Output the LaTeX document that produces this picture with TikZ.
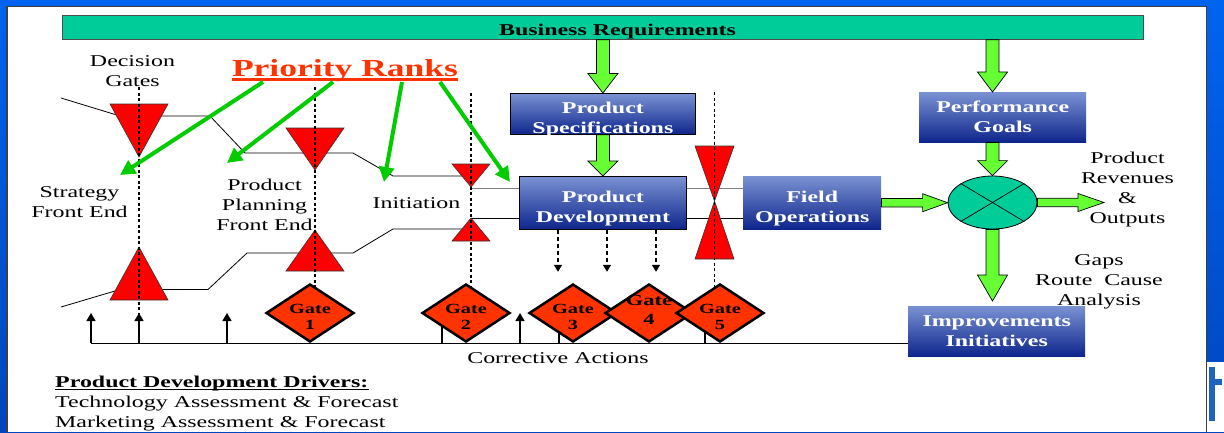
\documentclass[tikz,border=0pt]{standalone}
\usepackage{fontspec}
\setmainfont{Liberation Serif}[FakeStretch=1.45]
\usetikzlibrary{shapes.geometric,arrows.meta,calc}
\definecolor{framebluetop}{RGB}{0,100,240}
\definecolor{frameblue}{RGB}{0,70,190}
\definecolor{barteal}{RGB}{0,204,153}
\definecolor{gred}{RGB}{255,0,0}
\definecolor{gateor}{RGB}{255,51,0}
\definecolor{blockgreen}{RGB}{102,255,51}
\definecolor{linegreen}{RGB}{0,204,0}
\definecolor{boxtop}{RGB}{122,146,210}
\definecolor{boxbot}{RGB}{14,38,140}
\definecolor{prio}{RGB}{255,51,0}
\definecolor{logoblue}{RGB}{30,100,190}
\begin{document}
\begin{tikzpicture}[x=1pt,y=-1pt,
  txt/.style={font=\fontsize{16.5}{20}\selectfont, align=center, inner sep=0pt, anchor=base},
  bar/.style={anchor=north west, fill=barteal, draw=black!70, line width=0.8pt, minimum width=1081pt, minimum height=24pt, inner sep=0pt},
  bluebox/.style={anchor=north west, top color=boxtop, bottom color=boxbot, text=white,
    font=\bfseries\fontsize{16.5}{20}\selectfont, align=center, inner sep=0pt},
  tri/.style={fill=gred, draw=black!80, line width=0.6pt},
  pline/.style={black, line width=0.8pt},
  gatedash/.style={black, line width=1.1pt, dash pattern=on 3pt off 2.5pt},
  uparrow/.style={black, line width=1.4pt, -{Triangle[length=8pt,width=9pt]}},
  dasharrow/.style={black, line width=1.4pt, dash pattern=on 4pt off 3pt, -{Triangle[length=7pt,width=8pt]}},
  greenarrow/.style={linegreen, line width=4pt, -{Triangle[length=15pt,width=15pt]}},
  blockarrow/.style={fill=blockgreen, draw=black, line width=0.7pt},
  vblock/.style={blockarrow, to path={let \p1=(\tikztostart),\p2=(\tikztotarget) in
    (\x1-6.5pt,\y1) -- (\x1-6.5pt,\y2+#1) -- (\x1-15pt,\y2+#1) -- (\x1,\y2) -- (\x1+15pt,\y2+#1) -- (\x1+6.5pt,\y2+#1) -- (\x1+6.5pt,\y1) -- cycle}},
  hblock/.style={blockarrow, to path={let \p1=(\tikztostart),\p2=(\tikztotarget) in
    (\x1,\y1+4.2pt) -- (\x2-#1,\y1+4.2pt) -- (\x2-#1,\y1+9pt) -- (\x2,\y1) -- (\x2-#1,\y1-9pt) -- (\x2-#1,\y1-4.2pt) -- (\x1,\y1-4.2pt) -- cycle}},
  gate/.style={diamond, draw=black, line width=2.5pt, fill=gateor, aspect=1.5, inner sep=0pt,
    minimum width=88pt, minimum height=58pt},
  gatetext/.style={font=\bfseries\fontsize{14}{16.7}\selectfont, align=center, inner sep=0pt, yshift=-4pt},
  gatefour/.style={font=\bfseries\fontsize{15.5}{19}\selectfont, align=center, inner sep=0pt, yshift=2.8pt}
]
\useasboundingbox (0,0) rectangle (1224,432);
% frame
\fill[top color=framebluetop, bottom color=frameblue] (0,0) rectangle (1224,432);
\fill[white] (7,6) rectangle (1207,432);
\fill[white] (1207,362) rectangle (1224,432);
\fill[logoblue] (1209,367) rectangle (1215,421);
\fill[logoblue] (1209,379) rectangle (1222,385);
\draw[black!75, line width=1.2pt] (7,432) -- (7,6.6) -- (1206.6,6.6) -- (1206.6,432);

% business requirements bar
\node[bar] (br) at (62,15) {};
\node[txt, font=\bfseries\fontsize{16.5}{20}\selectfont] (brt) at (617.5,35) {Business Requirements};

% boxes
\node[bluebox, draw=black, line width=0.8pt, minimum width=185pt, text height=40pt, text depth=1pt] (ps) at (510,93) {Product\\Specifications};
\node[bluebox, draw=black, line width=0.8pt, minimum width=167pt, text height=45.7pt, text depth=7.3pt] (pd) at (519,176) {Product\\Development};
\node[bluebox, minimum width=138pt, text height=46pt, text depth=7pt] (fo) at (743,176) {Field\\Operations};
\node[bluebox, minimum width=167pt, text height=40.7pt, text depth=9.3pt] (pg) at (919,92) {Performance\\Goals};
\node[bluebox, minimum width=177pt, text height=40.7pt, text depth=9.3pt] (imp) at (908,306) {Improvements\\Initiatives};
\node[ellipse, draw=black, line width=0.8pt, fill=barteal, minimum width=89pt, minimum height=53pt, inner sep=0pt] (sum) at (992.5,202.5) {};
\draw[line width=0.7pt] (sum.north west) -- (sum.south east);
\draw[line width=0.7pt] (sum.north east) -- (sum.south west);

% process lines
\draw[pline] (61,98) -- (120,116) -- (210,116) -- (245,153) -- (353,153) -- (393,176) -- (471,176);
\draw[pline, black!50] (471,188) -- (pd.west |- 0,188);
\draw[pline, black!50] (pd.east |- 0,188) -- (fo.west |- 0,188);
\draw[pline] (61,307) -- (120,289.5) -- (208,289.5) -- (247,253) -- (353,253) -- (393,229) -- (471,229);
\draw[pline] (471,218) -- (pd.west |- 0,218);
\draw[pline] (pd.east |- 0,218) -- (fo.west |- 0,218);

% corrective actions line
\draw[pline] (91,343) -- (imp.west |- 0,343);
\foreach \x in {91,139,227,520} \draw[uparrow] (\x,343) -- (\x,313);
\foreach \x in {442,559,705} \draw[line width=1.4pt] (\x,343) -- (\x,318);

% decision gate triangles
\path[tri] (110,104) -- (168,104) -- (139,157) -- cycle;
\path[tri] (139,247) -- (168,300) -- (110,300) -- cycle;
\path[tri] (286,128) -- (344,128) -- (315,170) -- cycle;
\path[tri] (315,230) -- (344,271) -- (286,271) -- cycle;
\path[tri] (452,164) -- (490,164) -- (471,187) -- cycle;
\path[tri] (471,218) -- (490,241) -- (452,241) -- cycle;
\path[tri] (695,146) -- (734,146) -- (714.5,201) -- cycle;
\path[tri] (714.5,201) -- (734,259) -- (695,259) -- cycle;

% gate lines
\draw[gatedash] (139,87) -- (139,313);
\draw[gatedash] (315,87) -- (315,300);
\draw[gatedash] (471,93) -- (471,300);
\draw[gatedash] (714.5,92) -- (714.5,300);

% block arrows
\draw[vblock=19.5pt] (br.south -| ps.north) to (ps.north);
\draw[vblock=15pt] (ps.south) to (pd.north);
\draw[vblock=20pt] (br.south -| sum.north) to (sum.north |- pg.north);
\draw[vblock=15pt] (pg.south -| sum.north) to (sum.north);
\draw[vblock=26pt] (sum.south) to ($(sum.south |- imp.north)+(0,-5)$);
\draw[hblock=25pt] (fo.east) to (sum.west);
\coordinate (out) at (1104,202.5);
\draw[hblock=26pt] (sum.east) to (out);

% dashed arrows from product development
\foreach \x in {558,607,656} \draw[dasharrow] (pd.south -| \x,0) -- ++(0,42);

% gates
\node[gate, label={[gatetext]center:{Gate\\1}}] (g1) at (310,313) {};
\node[gate, label={[gatetext]center:{Gate\\2}}] (g2) at (466,313) {};
\node[gate, label={[gatetext]center:{Gate\\3}}] (g3) at (573,313) {};
\node[gate, label={[gatefour]center:{Gate\\4}}] (g4) at (649,313) {};
\node[gate, label={[gatetext]center:{Gate\\5}}] (g5) at (720,313) {};

% texts
\node[txt] (dg) at (132.5,86) {Decision\\Gates};
\node[txt] (sfe) at (79.5,217) {Strategy\\Front End};
\node[txt] (ppfe) at (264.5,230.7) {Product\\Planning\\Front End};
\node[txt] (ini) at (416.5,208.3) {Initiation};
\node[txt] (ca) at (558,363) {Corrective Actions};
\node[txt] (rev) at (1127.5,223.3) {Product\\Revenues\\\&\\Outputs};
\node[txt] (gaps) at (1099,305) {Gaps\\Route\ \ Cause\\Analysis};
\node[txt, anchor=base west, font=\bfseries\fontsize{16.5}{20}\selectfont] (drvh) at (55,387.3) {Product Development Drivers:};
\draw[line width=1.3pt] ([yshift=-2.5pt]drvh.base west) -- ([yshift=-2.5pt]drvh.base east);
\node[txt, anchor=base west, align=left] (drv) at (55,427.3) {Technology Assessment \& Forecast\\Marketing Assessment \& Forecast};

% priority ranks
\node[inner sep=0pt, anchor=base, text=prio, font=\bfseries\fontsize{24.5}{28}\selectfont] (pr) at (345,76) {Priority Ranks};
\draw[prio, line width=2.5pt] ([yshift=-3.7pt]pr.base west) -- ([yshift=-3.7pt]pr.base east);
\coordinate (s1) at (263,82);
\coordinate (s2) at (333,82);
\coordinate (s3) at (402,82);
\coordinate (s4) at (440,82);
\coordinate (e1) at (120,175);
\coordinate (e2) at (227,163);
\coordinate (e3) at (384,182);
\coordinate (e4) at (510,182);
\draw[greenarrow] (s1) -- (e1);
\draw[greenarrow] (s2) -- (e2);
\draw[greenarrow] (s3) -- (e3);
\draw[greenarrow] (s4) -- (e4);
\end{tikzpicture}
\end{document}
